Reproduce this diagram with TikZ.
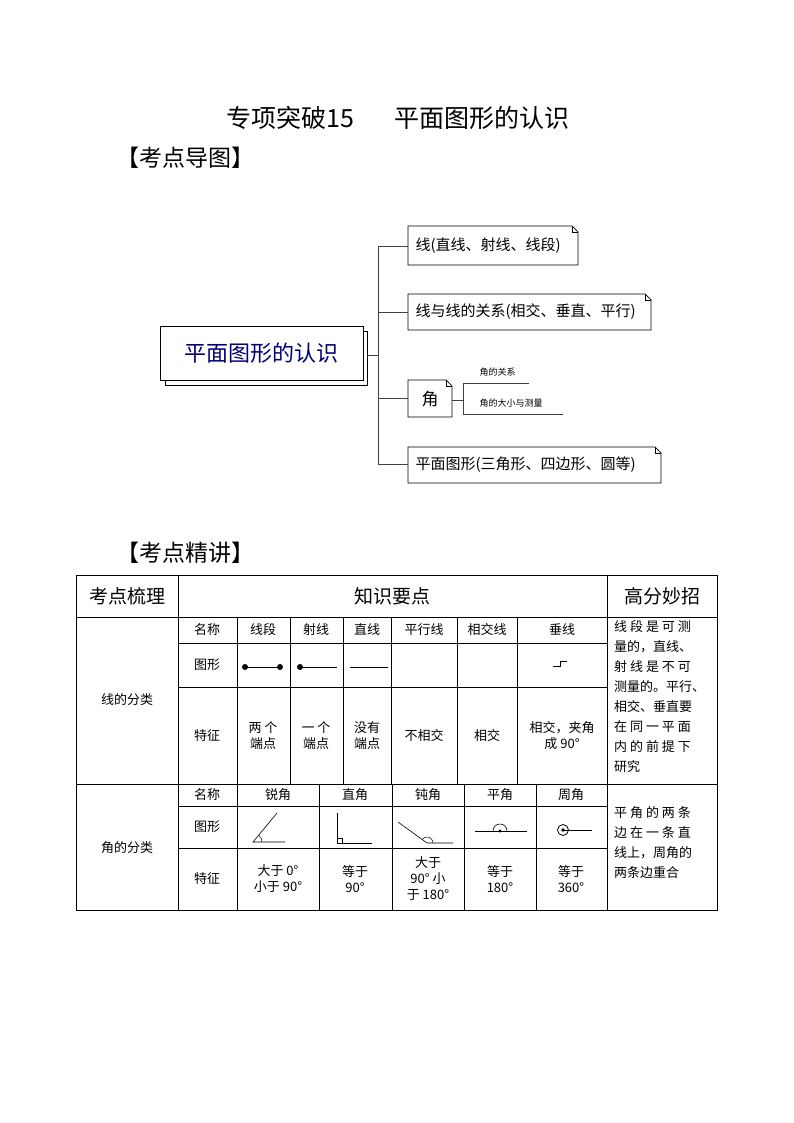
\documentclass[tikz,border=0pt]{standalone}
\usepackage{fontspec}
\setmainfont{Noto Sans CJK SC}
\begin{document}
\begin{tikzpicture}[x=1pt,y=-1pt,
  grid/.style={line width=0.8pt},
  tb/.style={font=\fontsize{13}{16}\selectfont,align=center,inner sep=0},
  note/.style={draw,line width=0.7pt,fill=white},
  conn/.style={line width=0.8pt,draw=black!75},
  mm/.style={anchor=west,font=\fontsize{15}{18}\selectfont}]
\useasboundingbox (0,0) rectangle (794,1123);
\node[font=\fontsize{25}{28}\selectfont] (title) at (398,118) {专项突破15\hspace{1.6em}平面图形的认识};
\node[font=\fontsize{23}{26}\selectfont,anchor=west] (h1) at (113,158) {【考点导图】};
\node[font=\fontsize{23}{26}\selectfont,anchor=west] (h2) at (113,553) {【考点精讲】};
% mind map
\draw[line width=0.7pt,fill=white] (165,331) rectangle (367,385);
\node[note,minimum width=203pt,minimum height=54pt,anchor=north west,text=blue!45!black,font=\fontsize{22}{26}\selectfont] (c) at (160,326) {平面图形的认识};
\def\fold#1#2#3#4{\draw[line width=0.7pt,fill=white] (#1,#2) -- (#3-6,#2) -- (#3,#2+6) -- (#3,#4) -- (#1,#4) -- cycle; \draw[line width=0.5pt] (#3-6,#2) -- (#3-6,#2+6) -- (#3,#2+6);}
\fold{408}{226}{578}{265}
\fold{408}{294}{651}{330}
\fold{408}{380}{452}{417}
\fold{408}{447}{661}{483}
\node[mm] (b1) at (412,246) {线(直线、射线、线段)};
\node[mm] (b2) at (412,312) {线与线的关系(相交、垂直、平行)};
\node[font=\fontsize{17}{20}\selectfont] (b3) at (430,399) {角};
\node[mm] (b4) at (412,465) {平面图形(三角形、四边形、圆等)};
\coordinate (t1) at (378,246); \coordinate (t4) at (378,464);
\draw[conn] (t1) -- (t4);
\draw[conn] (367,355) -- (378,355);
\draw[conn] (t1) -- (408,246);
\draw[conn] (378,312) -- (408,312);
\draw[conn] (378,398) -- (408,398);
\draw[conn] (t4) -- (408,464);
\draw[conn] (452,400) -- (463,400);
\draw[conn] (463,383) -- (463,414);
\draw[conn] (463,383) -- (529,383);
\draw[conn] (463,414) -- (563,414);
\node[anchor=west,font=\fontsize{9}{11}\selectfont] (s1) at (476,372) {角的关系};
\node[anchor=west,font=\fontsize{9}{11}\selectfont] (s2) at (476,403) {角的大小与测量};
% table
\draw[grid] (76,575) rectangle (717,910);
\draw[grid] (76,617) -- (717,617);
\draw[grid] (76,784) -- (717,784);
\draw[grid] (178,575) -- (178,910);
\draw[grid] (607,575) -- (607,910);
\draw[grid] (178,643) -- (607,643);
\draw[grid] (178,687) -- (607,687);
\foreach \x in {237,290,343,391,457,517} \draw[grid] (\x,617) -- (\x,784);
\draw[grid] (178,806) -- (607,806);
\draw[grid] (178,848) -- (607,848);
\foreach \x in {237,319,392,464,536} \draw[grid] (\x,784) -- (\x,910);
\node[font=\fontsize{19}{22}\selectfont] (k1) at (127,596) {考点梳理};
\node[font=\fontsize{19}{22}\selectfont] (k2) at (392,596) {知识要点};
\node[font=\fontsize{19}{22}\selectfont] (k3) at (662,596) {高分妙招};
\node[tb] (L) at (127,700) {线的分类};
\node[tb] at (207,630) {名称};
\node[tb] at (263,630) {线段};
\node[tb] at (316,630) {射线};
\node[tb] at (367,630) {直线};
\node[tb] at (424,630) {平行线};
\node[tb] at (487,630) {相交线};
\node[tb] at (562,630) {垂线};
\node[tb] at (207,665) {图形};
\node[tb] at (207,736) {特征};
\node[tb] at (263,736) {两 个\\端点};
\node[tb] at (316,736) {一 个\\端点};
\node[tb] at (367,736) {没有\\端点};
\node[tb] at (424,736) {不相交};
\node[tb] at (487,736) {相交};
\node[tb] at (562,736) {相交，夹角\\成 90°};
\node[tb,align=left,anchor=north west,font=\fontsize{13}{20}\selectfont] at (614,620) {线 段 是 可 测\\量的，直线、\\射 线 是 不 可\\测量的。平行、\\相交、垂直要\\在 同 一 平 面\\内 的 前 提 下\\研究};
\fill (245,667) circle (3); \fill (280,667) circle (3); \draw[line width=0.9pt] (245,667) -- (280,667);
\fill (300,667) circle (3); \draw[line width=0.9pt] (300,667) -- (337,667);
\draw[line width=0.9pt] (350,667) -- (388,667);
\draw[line width=0.7pt] (553,666) -- (560,666) -- (560,661) -- (567,661);
% angles
\node[tb] (A) at (127,848) {角的分类};
\node[tb] at (207,795) {名称};
\node[tb] at (278,795) {锐角};
\node[tb] at (355,795) {直角};
\node[tb] at (428,795) {钝角};
\node[tb] at (500,795) {平角};
\node[tb] at (571,795) {周角};
\node[tb] at (207,827) {图形};
\node[tb] at (207,879) {特征};
\node[tb] at (278,879) {大于 0°\\小于 90°};
\node[tb] at (355,879) {等于\\90°};
\node[tb] at (428,879) {大于\\90° 小\\于 180°};
\node[tb] at (500,879) {等于\\180°};
\node[tb] at (571,879) {等于\\360°};
\node[tb,align=left,anchor=north west,font=\fontsize{13}{20}\selectfont] at (614,806) {平 角 的 两 条\\边 在 一 条 直\\线上，周角的\\两条边重合};
\draw[line width=0.6pt] (277,813) -- (253,842) -- (285,842);
\draw[line width=0.5pt] (262,842) arc (0:-50:9);
\draw[line width=0.6pt] (337,813) -- (337,843) -- (372,843);
\draw[line width=0.5pt] (337,838) -- (342,838) -- (342,843);
\draw[line width=0.6pt] (398,822) -- (427,843) -- (453,843);
\draw[line width=0.5pt] (433,843) arc (0:-145:6);
\draw[line width=0.6pt] (475,831) -- (527,831);
\fill (500,831) circle (1.6);
\draw[line width=0.6pt] (507,831) arc (0:-180:7);
\draw[line width=0.8pt] (563,830) circle (5.5);
\fill (563,830) circle (1.8);
\draw[line width=0.6pt] (563,830) -- (592,830);
\end{tikzpicture}
\end{document}
